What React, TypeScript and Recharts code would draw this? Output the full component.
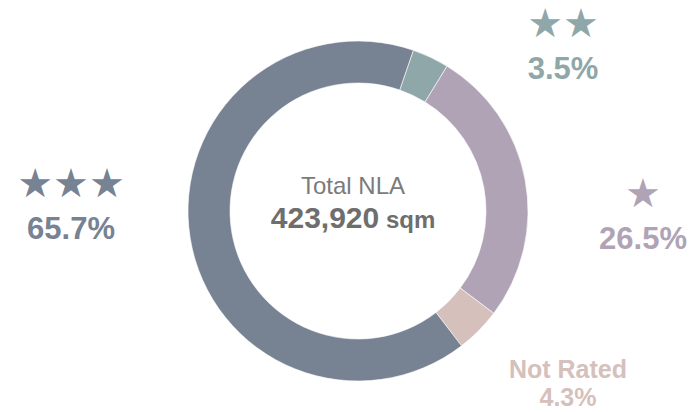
import { PieChart, Pie, Cell } from "recharts";

// Shares of total NLA by rating
const ratings = ["★★", "★", "Not Rated", "★★★"];
const shares = [3.5, 26.5, 4.3, 65.7];
const colors = ["#8fa7a8", "#b0a3b6", "#d5c0bc", "#778293"];
const totalNla = "423,920";

const data = ratings.map((r, i) => ({ name: r, value: shares[i] }));

const sans = { fontFamily: "Arial, 'Liberation Sans', sans-serif" };
const starFont = { fontFamily: "'DejaVu Sans', sans-serif" };

// label anchor (x centre, percent baseline) offsets from the pie centre
const labelPos = [
  { dx: 205, dy: -132 },
  { dx: 285, dy: 38 },
  { dx: 210, dy: 167 },
  { dx: -287, dy: 28 },
];

function renderLabel(props: any) {
  const { cx, cy, index, name, value } = props;
  const p = labelPos[index];
  const x = cx + p.dx;
  const y = cy + p.dy;
  const c = colors[index];
  if (name === "Not Rated") {
    return (
      <g>
        <text x={x} y={y} textAnchor="middle" fill={c} fontSize={25} fontWeight="bold" style={sans}>
          {name}
        </text>
        <text x={x} y={y + 28} textAnchor="middle" fill={c} fontSize={25} fontWeight="bold" style={sans}>
          {value}%
        </text>
      </g>
    );
  }
  return (
    <g>
      <text x={x} y={y - 42} textAnchor="middle" fill={c} fontSize={40} style={starFont}>
        {name}
      </text>
      <text x={x} y={y} textAnchor="middle" fill={c} fontSize={31} fontWeight="bold" style={sans}>
        {value}%
      </text>
    </g>
  );
}

export default function App() {
  return (
    <div style={{ position: "absolute", left: 0, top: 0, width: 694, height: 412, background: "#fff" }}>
      <PieChart width={694} height={412}>
        <Pie
          data={data}
          dataKey="value"
          nameKey="name"
          cx={353}
          cy={206}
          innerRadius={128}
          outerRadius={170}
          startAngle={71}
          endAngle={-289}
          stroke="#ffffff"
          strokeWidth={0.6}
          label={renderLabel}
          labelLine={false}
          isAnimationActive={false}
        >
          {data.map((d, i) => (
            <Cell key={d.name} fill={colors[i]} />
          ))}
        </Pie>
        <text x={353} y={194} textAnchor="middle" fill="#7b7b7b" fontSize={24} style={sans}>
          Total NLA
        </text>
        <text x={353} y={228} textAnchor="middle" fill="#6e6e6e" fontWeight="bold" style={sans}>
          <tspan fontSize={30}>{totalNla}</tspan>
          <tspan fontSize={24}> sqm</tspan>
        </text>
      </PieChart>
    </div>
  );
}
